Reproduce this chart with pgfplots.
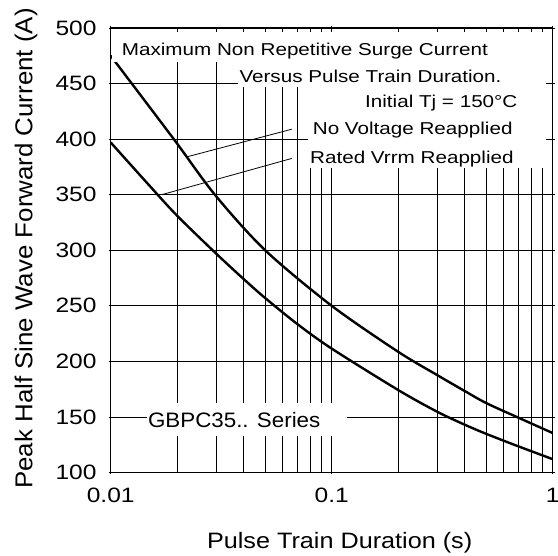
\documentclass[border=0pt]{standalone}
\usepackage{fontspec}
\setmainfont{Liberation Sans}
\newfontfamily\annfont[FakeStretch=1.2]{Liberation Sans}
\newfontfamily\tickfont[FakeStretch=1.18]{Liberation Sans}
\newfontfamily\xlabfont[FakeStretch=1.13]{Liberation Sans}
\newfontfamily\ylabfont[FakeStretch=1.06]{Liberation Sans}
\newfontfamily\serfont[FakeStretch=1.07]{Liberation Sans}
\usepackage{pgfplots}
\pgfplotsset{compat=1.18}
\begin{document}
\begin{tikzpicture}
\path[use as bounding box] (-110.7pt,-83.5pt) rectangle (447.3pt,472.5pt);
\begin{axis}[
  scale only axis, width=442pt, height=444.5pt,
  xmode=log, xmin=0.01, xmax=1, ymin=100, ymax=500,
  xtick={0.01,0.1,1}, xticklabels={0.01,0.1,1},
  ytick={100,150,200,250,300,350,400,450,500},
  yticklabels={100,150,200,250,300,350,400,450,500},
  xmajorgrids, xminorgrids, ymajorgrids,
  grid style={black, line width=0.8pt},
  minor grid style={black, line width=0.8pt},
  axis line style={black, line width=1pt},
  tick align=outside, major tick length=2pt, minor tick length=0pt,
  tick style={black, line width=0.8pt},
  xticklabel style={font=\tickfont\fontsize{20.8}{24}\selectfont, inner sep=0pt, anchor=north, yshift=-13.5pt},
  yticklabel style={font=\tickfont\fontsize{20.8}{24}\selectfont, inner sep=0pt, anchor=east, xshift=-12pt},
  xlabel={Pulse Train Duration (s)},
  ylabel={Peak Half Sine Wave Forward Current (A)},
  xlabel style={font=\xlabfont\fontsize{22.3}{26}\selectfont, at={(axis description cs:0.518,-0.172)}, anchor=base, inner sep=0pt},
  ylabel style={font=\ylabfont\fontsize{24.4}{28}\selectfont, at={(axis description cs:-0.1774,0.504)}, anchor=base, inner sep=0pt},
]
% No Voltage Reapplied
\addplot[black, line width=2.4pt, smooth] coordinates {
 (0.01,475) (0.0193,400) (0.0296,350) (0.05,300) (0.1,250)
 (0.2,208.6) (0.3,187.7) (0.4,173.3) (0.5,162.5) (0.7,149.3) (1,135.5)};
% Rated Vrrm Reapplied
\addplot[black, line width=2.4pt, smooth] coordinates {
 (0.01,397) (0.015,358) (0.02,331) (0.03,297) (0.04,274) (0.05,257)
 (0.07,233.5) (0.1,211.5) (0.2,174.2) (0.3,154.7) (0.4,143) (0.5,134.8)
 (0.7,123.5) (1,112)};
% leader lines
\draw[black, line width=0.8pt] (axis cs:0.02207,384) -- (axis cs:0.06592,408.9);
\draw[black, line width=0.8pt] (axis cs:0.01701,350) -- (axis cs:0.06592,382.6);
% white text backgrounds
\fill[white] (rel axis cs:0.003,0.991) rectangle (rel axis cs:0.984,0.924);
\fill[white] (rel axis cs:0.289,0.925) rectangle (rel axis cs:0.984,0.868);
\fill[white] (rel axis cs:0.447,0.869) rectangle (rel axis cs:0.984,0.684);
\fill[white] (rel axis cs:0.0823,0.156) rectangle (rel axis cs:0.535,0.082);
% texts
\begin{scope}[every node/.style={anchor=base west, inner sep=0pt, font=\annfont\fontsize{17.2}{20}\selectfont}]
\node at (rel axis cs:0.0249,0.939) {Maximum Non Repetitive Surge Current};
\node at (rel axis cs:0.2910,0.878) {Versus Pulse Train Duration.};
\node at (rel axis cs:0.5753,0.8216) {Initial Tj = 150°C};
\node at (rel axis cs:0.457,0.7593) {No Voltage Reapplied};
\node at (rel axis cs:0.4509,0.6956) {Rated Vrrm Reapplied};
\end{scope}
\node[anchor=base west, inner sep=0pt, font=\serfont\fontsize{20.9}{24}\selectfont] at (rel axis cs:0.0840,0.1017) {GBPC35.. Series};
\end{axis}
\end{tikzpicture}
\end{document}
